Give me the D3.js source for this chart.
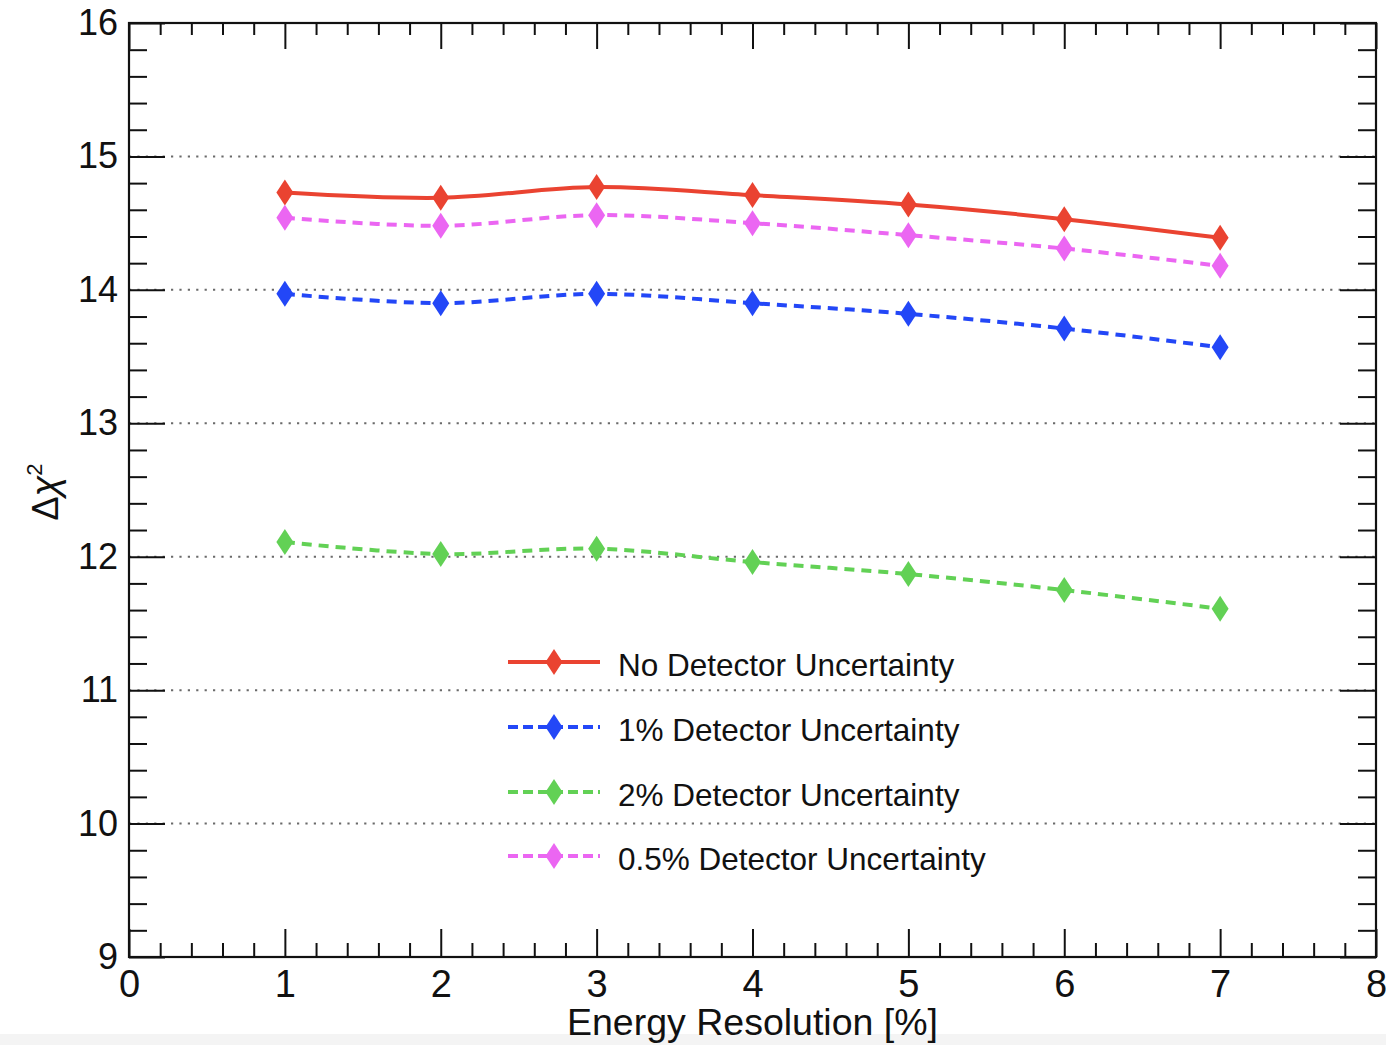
<!DOCTYPE html>
<html>
<head>
<meta charset="utf-8">
<script src="https://cdn.jsdelivr.net/npm/d3@7"></script>
<style>
  html, body { margin: 0; padding: 0; background: #fff; }
  svg { display: block; font-family: "Liberation Sans", Arial, Helvetica, sans-serif; }
</style>
</head>
<body>
<svg id="chart" width="1386" height="1045"></svg>
<script>
// Energy resolution points [%]
const resolution = [1, 2, 3, 4, 5, 6, 7];

// Δχ² for each detector-uncertainty assumption
const noDetUnc   = [14.73, 14.69, 14.77, 14.71, 14.64, 14.53, 14.39];
const detUnc1    = [13.97, 13.90, 13.97, 13.90, 13.82, 13.71, 13.57];
const detUnc2    = [12.11, 12.02, 12.06, 11.96, 11.87, 11.75, 11.61];
const detUnc05   = [14.54, 14.48, 14.56, 14.50, 14.41, 14.31, 14.18];

const seriesNames = [
  "No Detector Uncertainty",
  "1% Detector Uncertainty",
  "2% Detector Uncertainty",
  "0.5% Detector Uncertainty"
];
const seriesColors = ["#ea4331", "#2347f7", "#62d155", "#eb66f2"];
const seriesDashed = [false, true, true, true];
const seriesValues = [noDetUnc, detUnc1, detUnc2, detUnc05];

const xTickValues = [0, 1, 2, 3, 4, 5, 6, 7, 8];
const yTickValues = [9, 10, 11, 12, 13, 14, 15, 16];
const yGridValues = [10, 11, 12, 13, 14, 15];

const svg = d3.select("#chart");
const W = 1386, H = 1045;
const padL = 129, padR = 1376, padT = 23, padB = 957;

// light strip along the bottom edge of the canvas
svg.append("rect").attr("x", 0).attr("y", 1034).attr("width", W).attr("height", H - 1034)
  .attr("fill", "#f4f4f4");

const x = d3.scaleLinear().domain([0, 8]).range([padL, padR]);
const y = d3.scaleLinear().domain([9, 16]).range([padB, padT]);

const minorX = d3.range(0, 40).map(i => i * 0.2).filter(v => Math.abs(v - Math.round(v)) > 1e-6);
const minorY = d3.range(45, 80).map(i => i * 0.2).filter(v => Math.abs(v - Math.round(v)) > 1e-6);

// horizontal dotted grid
svg.append("g").selectAll("line").data(yGridValues).join("line")
  .attr("x1", padL).attr("x2", padR)
  .attr("y1", d => y(d)).attr("y2", d => y(d))
  .attr("stroke", "#6a6a6a").attr("stroke-width", 2)
  .attr("stroke-dasharray", "2.2,6.2");

function styleAxis(g) {
  g.select(".domain").remove();
  g.selectAll(".tick line").attr("stroke", "#111").attr("stroke-width", 2);
}

// bottom axis: major ticks with labels, minor ticks
svg.append("g").attr("transform", `translate(0,${padB})`)
  .call(d3.axisBottom(x).tickValues(xTickValues).tickFormat(d3.format("d"))
    .tickSize(-28).tickPadding(13))
  .call(styleAxis)
  .call(g => g.selectAll("text").attr("font-size", 38).attr("fill", "#111")
    .attr("font-family", "Liberation Sans, Arial, sans-serif"));
svg.append("g").attr("transform", `translate(0,${padB})`)
  .call(d3.axisBottom(x).tickValues(minorX).tickFormat("").tickSize(-14))
  .call(styleAxis);

// top axis (ticks only)
svg.append("g").attr("transform", `translate(0,${padT})`)
  .call(d3.axisTop(x).tickValues(xTickValues).tickFormat("").tickSize(-26))
  .call(styleAxis);
svg.append("g").attr("transform", `translate(0,${padT})`)
  .call(d3.axisTop(x).tickValues(minorX).tickFormat("").tickSize(-12))
  .call(styleAxis);

// left axis with labels
svg.append("g").attr("transform", `translate(${padL},0)`)
  .call(d3.axisLeft(y).tickValues(yTickValues).tickFormat(d3.format("d"))
    .tickSize(-36).tickPadding(11))
  .call(styleAxis)
  .call(g => g.selectAll("text").attr("font-size", 36).attr("fill", "#111")
    .attr("font-family", "Liberation Sans, Arial, sans-serif"));
svg.append("g").attr("transform", `translate(${padL},0)`)
  .call(d3.axisLeft(y).tickValues(minorY).tickFormat("").tickSize(-18))
  .call(styleAxis);

// right axis (ticks only)
svg.append("g").attr("transform", `translate(${padR},0)`)
  .call(d3.axisRight(y).tickValues(yTickValues).tickFormat("").tickSize(-36))
  .call(styleAxis);
svg.append("g").attr("transform", `translate(${padR},0)`)
  .call(d3.axisRight(y).tickValues(minorY).tickFormat("").tickSize(-18))
  .call(styleAxis);

// frame
svg.append("rect").attr("x", padL).attr("y", padT)
  .attr("width", padR - padL).attr("height", padB - padT)
  .attr("fill", "none").attr("stroke", "#111").attr("stroke-width", 2.2);

// axis titles
svg.append("text").attr("x", x(4)).attr("y", 1035).attr("text-anchor", "middle")
  .attr("font-size", 37.5).attr("fill", "#111").text("Energy Resolution [%]");

const yTitle = svg.append("text")
  .attr("transform", "translate(58,492) rotate(-90)")
  .attr("text-anchor", "middle").attr("font-size", 36).attr("fill", "#111");
yTitle.append("tspan").text("\u0394");
yTitle.append("tspan").attr("font-style", "italic").attr("font-size", 38).text("\u03C7");
yTitle.append("tspan").attr("font-size", 22).attr("dy", -16).text("2");

// series
const line = d3.line()
  .x((d, i) => x(resolution[i]))
  .y(d => y(d))
  .curve(d3.curveCatmullRom.alpha(0.5));

// tall diamond marker (half-width 8.5, half-height 13)
const tallDiamond = {
  draw(ctx) {
    ctx.moveTo(0, -13);
    ctx.lineTo(8.5, 0);
    ctx.lineTo(0, 13);
    ctx.lineTo(-8.5, 0);
    ctx.closePath();
  }
};
const diamond = d3.symbol(tallDiamond);

seriesValues.forEach((vals, k) => {
  const g = svg.append("g");
  g.append("path").datum(vals).attr("d", line)
    .attr("fill", "none").attr("stroke", seriesColors[k])
    .attr("stroke-width", 4)
    .attr("stroke-dasharray", seriesDashed[k] ? "10,7" : null);
  g.selectAll("path.pt").data(vals).join("path").attr("class", "pt")
    .attr("d", diamond)
    .attr("transform", (d, i) => `translate(${x(resolution[i])},${y(d)})`)
    .attr("fill", seriesColors[k]);
});

// legend
const legendRows = [662, 727, 792, 856];
const legend = svg.append("g");
seriesNames.forEach((name, k) => {
  const ly = legendRows[k];
  legend.append("line").attr("x1", 508).attr("x2", 600).attr("y1", ly).attr("y2", ly)
    .attr("stroke", seriesColors[k]).attr("stroke-width", 4)
    .attr("stroke-dasharray", seriesDashed[k] ? "10,5" : null);
  legend.append("path").attr("d", diamond)
    .attr("transform", `translate(554,${ly})`).attr("fill", seriesColors[k]);
  legend.append("text").attr("x", 618).attr("y", ly + 14)
    .attr("font-size", 31.5).attr("fill", "#111").text(name);
});
</script>
</body>
</html>
